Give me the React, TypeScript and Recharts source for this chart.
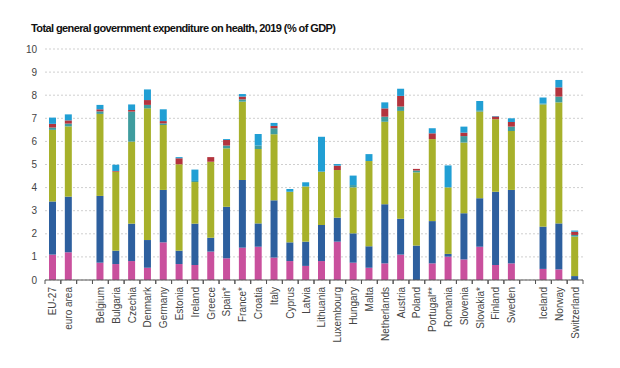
import { Bar, BarChart, CartesianGrid, XAxis, YAxis } from "recharts";

const categories = [
  "EU-27", "euro area", " ", "Belgium", "Bulgaria", "Czechia", "Denmark", "Germany",
  "Estonia", "Ireland", "Greece", "Spain*", "France*", "Croatia", "Italy", "Cyprus",
  "Latvia", "Lithuania", "Luxembourg", "Hungary", "Malta", "Netherlands", "Austria",
  "Poland", "Portugal**", "Romania", "Slovenia", "Slovakia*", "Finland", "Sweden",
  "  ", "Iceland", "Norway", "Switzerland",
];

const pink = [1.1, 1.2, null, 0.75, 0.69, 0.82, 0.53, 1.63, 0.69, 0.65, 1.23, 0.94, 1.4, 1.44, 0.97, 0.82, 0.61, 0.82, 1.66, 0.75, 0.53, 0.72, 1.1, 0, 0.72, 1.01, 0.89, 1.44, 0.65, 0.72, null, 0.48, 0.46, 0];
const blue = [2.3, 2.41, null, 2.89, 0.58, 1.62, 1.2, 2.27, 0.58, 1.79, 0.6, 2.23, 2.93, 1.01, 2.48, 0.81, 1.05, 1.56, 1.04, 1.27, 0.93, 2.56, 1.55, 1.49, 1.83, 0.12, 2.0, 2.1, 3.17, 3.18, null, 1.83, 1.99, 0.17];
const olive = [3.1, 3.04, null, 3.55, 3.42, 3.55, 5.7, 2.81, 3.74, 1.8, 3.29, 2.53, 3.39, 3.22, 2.86, 2.19, 2.39, 2.31, 2.06, 1.99, 3.69, 3.57, 4.67, 3.17, 3.55, 2.88, 3.06, 3.75, 3.14, 2.55, null, 5.29, 5.24, 1.71];
const teal = [0.1, 0.12, null, 0.11, 0, 1.3, 0.15, 0.07, 0, 0.05, 0, 0.12, 0.1, 0.15, 0.26, 0, 0, 0, 0, 0.1, 0, 0.22, 0.19, 0.08, 0, 0, 0.28, 0.06, 0, 0.19, null, 0.04, 0.25, 0.07];
const red = [0.16, 0.14, null, 0.09, 0.03, 0.07, 0.21, 0.1, 0.26, 0, 0.2, 0.24, 0.12, 0, 0.1, 0, 0, 0, 0.19, 0, 0, 0.36, 0.46, 0.07, 0.25, 0, 0.15, 0, 0.12, 0.2, null, 0, 0.4, 0.14];
const lightBlue = [0.27, 0.26, null, 0.19, 0.27, 0.24, 0.46, 0.51, 0.05, 0.49, 0, 0.04, 0.11, 0.5, 0.13, 0.12, 0.18, 1.51, 0.07, 0.41, 0.3, 0.26, 0.31, 0, 0.22, 0.95, 0.26, 0.4, 0.02, 0.16, null, 0.26, 0.32, 0.05];

const yTicks = [0, 1, 2, 3, 4, 5, 6, 7, 8, 9, 10];

const data = categories.map((name, i) => ({
  name,
  pink: pink[i],
  blue: blue[i],
  olive: olive[i],
  teal: teal[i],
  red: red[i],
  lightBlue: lightBlue[i],
}));

const series = [
  { key: "pink", color: "#c9509d" },
  { key: "blue", color: "#2d5f9e" },
  { key: "olive", color: "#a7b12b" },
  { key: "teal", color: "#3f9c9e" },
  { key: "red", color: "#b3343d" },
  { key: "lightBlue", color: "#219fd4" },
];

const FONT = "'Liberation Sans', Arial, sans-serif";
const SLOT = 538 / categories.length;

// ticks sit on the slot edges, labels run bottom-to-top under each bar
function CategoryTick(props: any) {
  const { x, y, payload } = props;
  return (
    <g>
      <line x1={x - SLOT / 2} x2={x - SLOT / 2} y1={y} y2={y + 4} stroke="#555" />
      <line x1={x + SLOT / 2} x2={x + SLOT / 2} y1={y} y2={y + 4} stroke="#555" />
      <text
        x={0}
        y={0}
        transform={`translate(${x},${y + 7}) rotate(-90)`}
        textAnchor="end"
        dominantBaseline="central"
        fontSize={10}
        fill="#444"
        fontFamily={FONT}
      >
        {payload.value}
      </text>
    </g>
  );
}

export default function App() {
  return (
    <div
      style={{
        position: "absolute",
        left: 0,
        top: 0,
        width: 620,
        height: 368,
        background: "#fff",
        fontFamily: FONT,
      }}
    >
      <div
        style={{
          position: "absolute",
          left: 31,
          top: 22,
          fontSize: 11,
          fontWeight: "bold",
          letterSpacing: -0.6,
          color: "#111",
          whiteSpace: "nowrap",
        }}
      >
        Total general government expenditure on health, 2019 (% of GDP)
      </div>
      <BarChart
        width={620}
        height={368}
        data={data}
        margin={{ top: 49, right: 37, left: 0, bottom: 0 }}
        barSize={7}
      >
        <CartesianGrid
          vertical={false}
          stroke="#cfcfcf"
          strokeDasharray="2 2"
        />
        <XAxis
          dataKey="name"
          interval={0}
          height={88}
          tickSize={0}
          tickMargin={0}
          tickLine={false}
          axisLine={{ stroke: "#555" }}
          tick={<CategoryTick />}
        />
        <YAxis
          width={45}
          domain={[0, 10]}
          ticks={yTicks}
          interval={0}
          axisLine={false}
          tickLine={false}
          tickSize={0}
          tickMargin={8}
          tick={{ fontSize: 10, fill: "#444", fontFamily: FONT }}
        />
        {series.map((s) => (
          <Bar
            key={s.key}
            dataKey={s.key}
            stackId="a"
            fill={s.color}
            isAnimationActive={false}
          />
        ))}
      </BarChart>
    </div>
  );
}
